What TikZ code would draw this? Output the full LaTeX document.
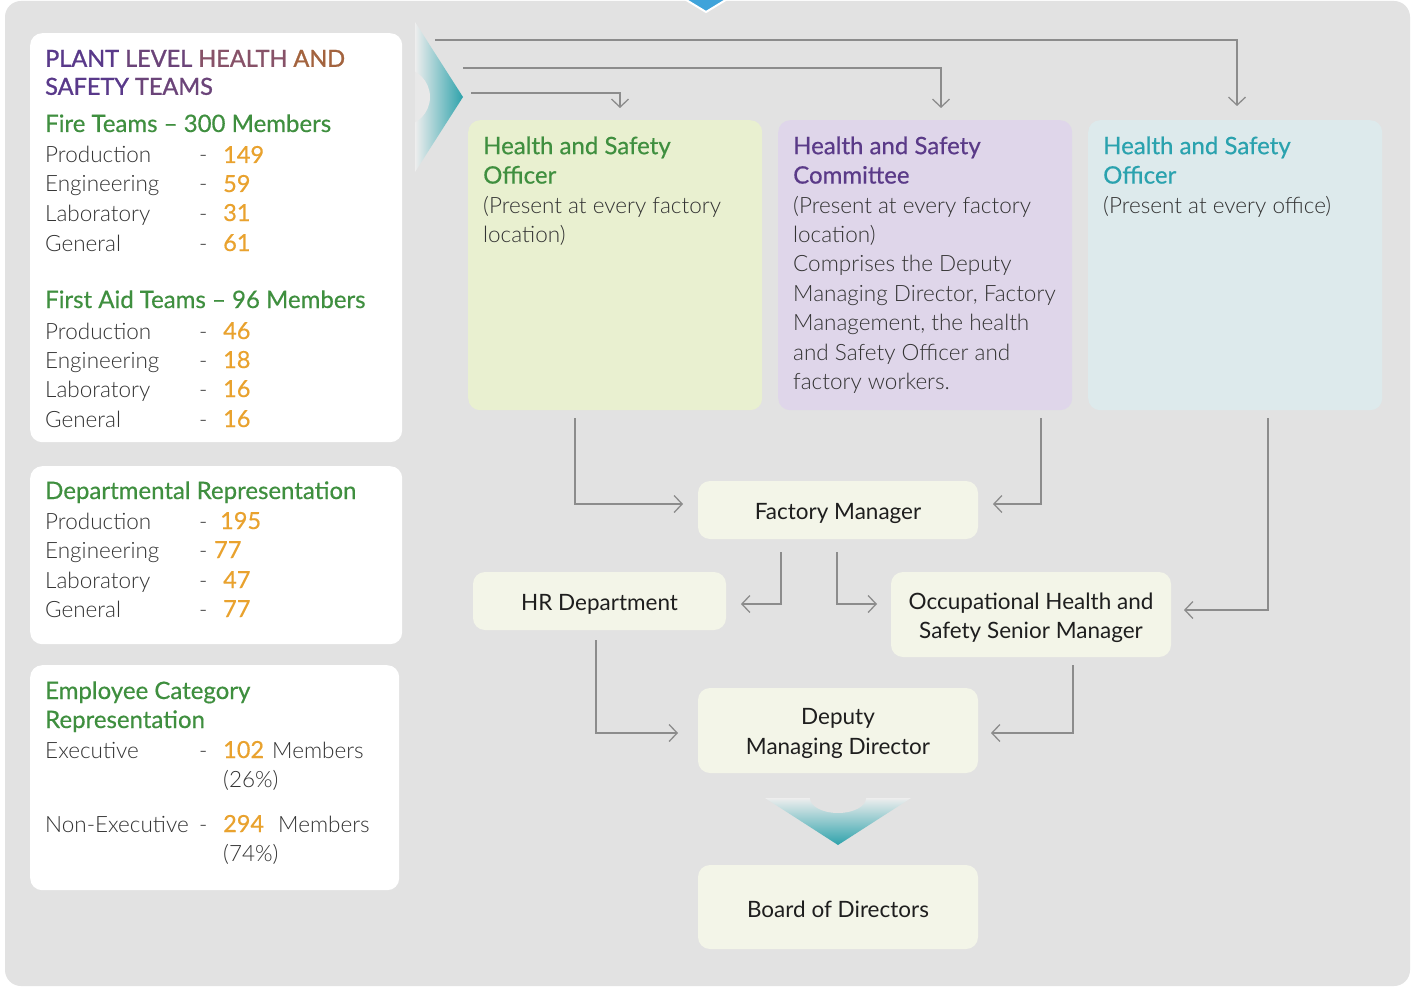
\documentclass[tikz,border=0pt]{standalone}
\usepackage{fontspec}
\setmainfont{Lato}
\newfontfamily\lt{Lato Light}
\newfontfamily\med{Lato}[FakeBold=0.5]
\newfontfamily\semi{Lato}[FakeBold=1.2]
\usetikzlibrary{arrows.meta,calc}
\definecolor{bg}{HTML}{E2E2E2}
\definecolor{body}{HTML}{333333}
\definecolor{dark}{HTML}{1E1E1E}
\definecolor{grn}{HTML}{3F8F3F}
\definecolor{orn}{HTML}{E9A22E}
\definecolor{pur}{HTML}{5A3A88}
\definecolor{tea}{HTML}{2AA2AE}
\definecolor{gbox}{HTML}{E9F0D0}
\definecolor{pbox}{HTML}{DFD6EA}
\definecolor{tbox}{HTML}{DDEAEC}
\definecolor{sbox}{HTML}{F3F5E8}
\definecolor{conn}{HTML}{8C8C8C}
\definecolor{chev}{HTML}{2EA2AB}
\definecolor{blu}{HTML}{3FA3DA}
\definecolor{t1}{HTML}{59398A}
\definecolor{t2}{HTML}{6B4479}
\definecolor{t3}{HTML}{875268}
\definecolor{t4}{HTML}{A3633E}
\begin{document}
\begin{tikzpicture}[x=1pt,y=-1pt,
  txt/.style={anchor=base west, inner sep=0pt, font=\lt\fontsize{22.5}{29.4}\selectfont, text=body},
  mtxt/.style={anchor=north west, inner sep=0pt, align=left, font=\lt\fontsize{22.5}{29.4}\selectfont, text=body},
  hd/.style={anchor=base west, inner sep=0pt, font=\med\fontsize{24}{29.4}\selectfont, text=grn},
  mhd/.style={anchor=north west, inner sep=0pt, align=left, font=\med\fontsize{24}{29.4}\selectfont},
  num/.style={anchor=base west, inner sep=0pt, font=\med\fontsize{23.5}{29.4}\selectfont, text=orn},
  wbox/.style={draw=none, fill=white, rounded corners=12, anchor=north west, inner sep=0pt},
  cbox/.style={draw=none, rounded corners=12, anchor=north west, inner sep=0pt, minimum width=294, minimum height=290},
  sboxs/.style={draw=none, fill=sbox, rounded corners=12, inner sep=0pt},
  stxt/.style={inner sep=0pt, align=center, text=dark, font=\fontsize{22.5}{29.4}\selectfont},
  cn/.style={draw=conn, line width=1.3pt, -{Straight Barb[length=8pt,width=17pt]}}
]
\useasboundingbox (0,0) rectangle (1420,987);
\fill[white] (0,0) rectangle (1420,987);
\fill[bg, rounded corners=16] (5,1) rectangle (1410,986);
% top blue marker
\filldraw[fill=blu, draw=white, line width=2pt] (683,-2) -- (729,-2) -- (706,12) -- cycle;

% left chevron
\begin{scope}
  \clip (415,22) -- (463,97) -- (415,172) -- cycle;
  \shade[left color=bg!60!white, right color=chev] (415,22) rectangle (463,172);
  \fill[bg!80!white] (401,97) circle[radius=29];
\end{scope}

% ---------------- left boxes
\node[wbox, minimum width=372, minimum height=409] (lb1) at (30,33) {};
\node[wbox, minimum width=372, minimum height=178] (lb2) at (30,466) {};
\node[wbox, minimum width=369, minimum height=225] (lb3) at (30,665) {};

\node[mhd, font=\semi\fontsize{23.5}{28}\selectfont] (title) at (45,47) {%
\strut\textcolor{t1}{PLANT} \textcolor{t2}{LEVEL} \textcolor{t3}{HEALTH} \textcolor{t4}{AND}\\
\textcolor{t1}{SAFETY} \textcolor{t2}{TEAMS}};

\node[hd] (fire) at (45,132) {Fire Teams – 300 Members};
\foreach \lab/\n/\y [count=\i] in {Production/149/163,Engineering/59/192,Laboratory/31/221,General/61/251}{
  \node[txt] (fa\i) at (45,\y) {\lab};
  \node[txt] (fb\i) at (199,\y) {-};
  \node[num] (fc\i) at (223,\y) {\n};
}
\node[hd] (aid) at (45,308) {First Aid Teams – 96 Members};
\foreach \lab/\n/\y [count=\i] in {Production/46/339,Engineering/18/368,Laboratory/16/397,General/16/427}{
  \node[txt] (aa\i) at (45,\y) {\lab};
  \node[txt] (ab\i) at (199,\y) {-};
  \node[num] (ac\i) at (223,\y) {\n};
}

\node[hd] (dep) at (45,499) {Departmental Representation};
\foreach \lab/\n/\y/\x [count=\i] in {Production/195/529/220,Engineering/77/558/214,Laboratory/47/588/223,General/77/617/223}{
  \node[txt] (da\i) at (45,\y) {\lab};
  \node[txt] (db\i) at (199,\y) {-};
  \node[num] (dc\i) at (\x,\y) {\n};
}

\node[hd] (emp1) at (45,699) {Employee Category};
\node[hd] (emp2) at (45,728) {Representation};
\node[txt] (ex1) at (45,758) {Executive};
\node[txt] (ex2) at (199,758) {-};
\node[num] (ex3) at (223,758) {102};
\node[txt] (ex4) at (272,758) {Members};
\node[txt] (ex5) at (223,787) {(26\%)};
\node[txt] (ne1) at (45,832) {Non-Executive};
\node[txt] (ne2) at (199,832) {-};
\node[num] (ne3) at (223,832) {294};
\node[txt] (ne4) at (278,832) {Members};
\node[txt] (ne5) at (223,861) {(74\%)};

% ---------------- top boxes
\node[cbox, fill=gbox] (hso) at (468,120) {};
\node[cbox, fill=pbox] (hsc) at (778,120) {};
\node[cbox, fill=tbox] (hst) at (1088,120) {};

\node[mhd, text=grn] (hsoh) at (483,133.4) {\strut Health and Safety\\Officer};
\node[mtxt] (hsob) at (483,192.4) {\strut(Present at every factory\\location)};
\node[mhd, text=pur] (hsch) at (793,133.4) {\strut Health and Safety\\Committee};
\node[mtxt] (hscb) at (793,192.4) {\strut(Present at every factory\\location)\\Comprises the Deputy\\Managing Director, Factory\\Management, the health\\and Safety Officer and\\factory workers.};
\node[mhd, text=tea] (hsth) at (1103,133.4) {\strut Health and Safety\\Officer};
\node[mtxt] (hstb) at (1103,192.4) {\strut(Present at every office)};

% ---------------- middle boxes
\node[sboxs, minimum width=280, minimum height=58] (fm) at (838,510) {};
\node[sboxs, minimum width=253, minimum height=58] (hr) at (599.5,601) {};
\node[sboxs, minimum width=280, minimum height=85] (ohs) at (1031,614.5) {};
\node[sboxs, minimum width=280, minimum height=85] (dmd) at (838,730.5) {};
\node[sboxs, minimum width=280, minimum height=84] (bod) at (838,907) {};
\node[stxt] (fmt) at ($(fm.center)+(0,3)$) {Factory Manager};
\node[stxt] (hrt) at ($(hr.center)+(0,3)$) {HR Department};
\node[stxt] (ohst) at ($(ohs.center)+(0,3)$) {Occupational Health and\\Safety Senior Manager};
\node[stxt] (dmdt) at ($(dmd.center)+(0,3)$) {Deputy\\Managing Director};
\node[stxt] (bodt) at ($(bod.center)+(0,2)$) {Board of Directors};

% bottom chevron
\begin{scope}
  \clip (765,798) -- (911,798) -- (838,845) -- cycle;
  \shade[top color=bg!60!white, bottom color=chev] (765,798) rectangle (911,845);
  \fill[bg] (838,798) ellipse[x radius=28, y radius=15];
\end{scope}

% ---------------- connectors
\coordinate (a1) at (435,40);   \coordinate (a1e) at (1237,106);
\coordinate (a2) at (463,68);   \coordinate (a2e) at (941,108);
\coordinate (a3) at (471,93);   \coordinate (a3e) at (620,108);
\draw[cn] (a1) -| (a1e);
\draw[cn] (a2) -| (a2e);
\draw[cn] (a3) -| (a3e);

\coordinate (b1) at (575,418);  \coordinate (b1e) at (683,504);
\coordinate (b2) at (1041,418); \coordinate (b2e) at (993,504);
\coordinate (b3) at (781,552);  \coordinate (b3e) at (741,604);
\coordinate (b4) at (837,552);  \coordinate (b4e) at (877,604);
\coordinate (b5) at (1268,418); \coordinate (b5e) at (1184,610);
\coordinate (b6) at (596,640);  \coordinate (b6e) at (678,733);
\coordinate (b7) at (1073,665); \coordinate (b7e) at (991,733);
\draw[cn] (b1) |- (b1e);
\draw[cn] (b2) |- (b2e);
\draw[cn] (b3) |- (b3e);
\draw[cn] (b4) |- (b4e);
\draw[cn] (b5) |- (b5e);
\draw[cn] (b6) |- (b6e);
\draw[cn] (b7) |- (b7e);
\end{tikzpicture}
\end{document}
